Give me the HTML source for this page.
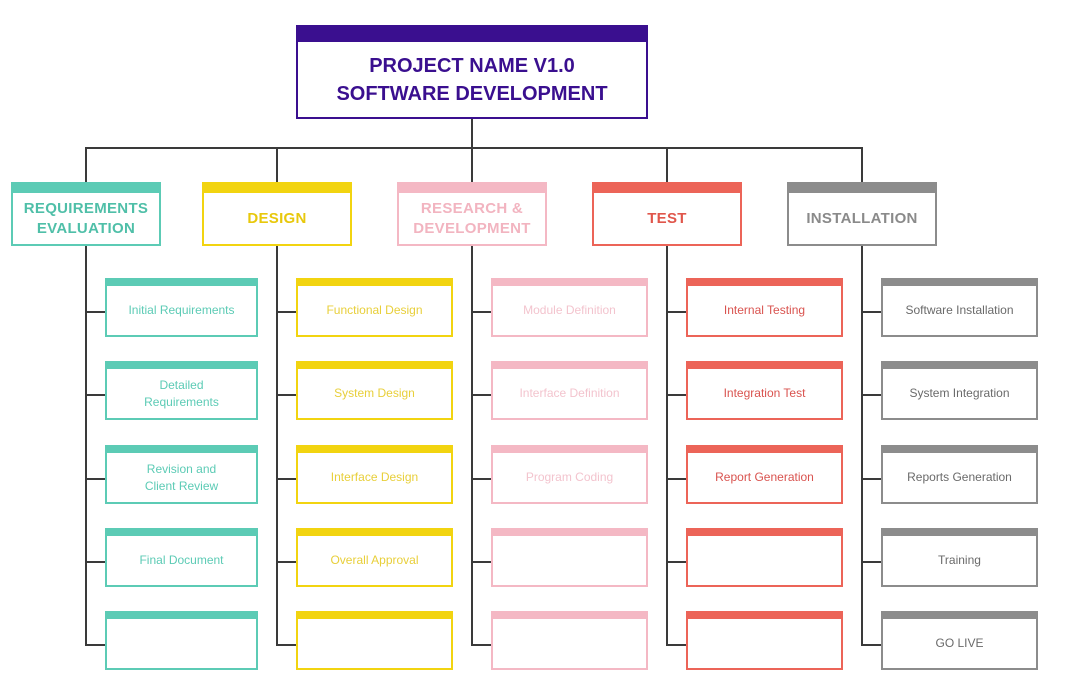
<!DOCTYPE html>
<html><head><style>
body{margin:0;width:1071px;height:693px;background:#fff;position:relative;font-family:"Liberation Sans",sans-serif;overflow:hidden}
.a{position:absolute;box-sizing:border-box}
.ln{position:absolute;background:#3a3a3a}
.box{position:absolute;box-sizing:border-box;border:2px solid;display:flex;align-items:center;justify-content:center;text-align:center;background:#fff}
.h{font-weight:bold;font-size:15px;line-height:20px;letter-spacing:.3px}
.s{font-size:12px;line-height:17px}
</style></head><body>
<!-- top -->
<div class="box" style="left:296px;top:25px;width:352px;height:94px;border-color:#3a0f8f;border-top:17px solid #3a0f8f;color:#3a0f8f;font-weight:bold;font-size:20px;line-height:28px">PROJECT NAME V1.0<br>SOFTWARE DEVELOPMENT</div>
<div class="ln" style="left:471px;top:119px;width:2px;height:30px"></div>
<div class="ln" style="left:85px;top:147px;width:778px;height:2px"></div>

<div id="c"></div>
<script>
var cols=[
 {hx:11,cx:86,bx:105,bw:153,c:'#5ccbb5',tc:'#4fbfa8',st:'#5ccbb5',h:'REQUIREMENTS<br>EVALUATION',items:['Initial Requirements','Detailed<br>Requirements','Revision and<br>Client Review','Final Document','']},
 {hx:202,cx:277,bx:296,bw:157,c:'#f2d410',tc:'#e8c80c',st:'#e8cf3a',h:'DESIGN',items:['Functional Design','System Design','Interface Design','Overall Approval','']},
 {hx:397,cx:472,bx:491,bw:157,c:'#f4b8c4',tc:'#f2b4c0',st:'#f3c4ce',h:'RESEARCH &amp;<br>DEVELOPMENT',items:['Module Definition','Interface Definition','Program Coding','','']},
 {hx:592,cx:667,bx:686,bw:157,c:'#ec6458',tc:'#e0564b',st:'#d9534f',h:'TEST',items:['Internal Testing','Integration Test','Report Generation','','']},
 {hx:787,cx:862,bx:881,bw:157,c:'#8c8c8c',tc:'#8a8a8a',st:'#6a6a6a',h:'INSTALLATION',items:['Software Installation','System Integration','Reports Generation','Training','GO LIVE']}
];
var ys=[278,361,445,528,611],h='';
cols.forEach(function(k){
 h+='<div class="ln" style="left:'+(k.cx-1)+'px;top:148px;width:2px;height:35px"></div>';
 h+='<div class="ln" style="left:'+(k.cx-1)+'px;top:245px;width:2px;height:401px"></div>';
 h+='<div class="box h" style="left:'+k.hx+'px;top:182px;width:150px;height:64px;border-color:'+k.c+';border-top:11px solid '+k.c+';color:'+k.tc+'">'+k.h+'</div>';
 k.items.forEach(function(t,i){
  var y=ys[i];
  h+='<div class="ln" style="left:'+k.cx+'px;top:'+(y+33)+'px;width:'+(k.bx-k.cx)+'px;height:2px"></div>';
  h+='<div class="box s" style="left:'+k.bx+'px;top:'+y+'px;width:'+k.bw+'px;height:59px;border-color:'+k.c+';border-top:8px solid '+k.c+';color:'+k.st+'">'+t+'</div>';
 });
});
document.getElementById('c').outerHTML=h;
</script>
</body></html>
